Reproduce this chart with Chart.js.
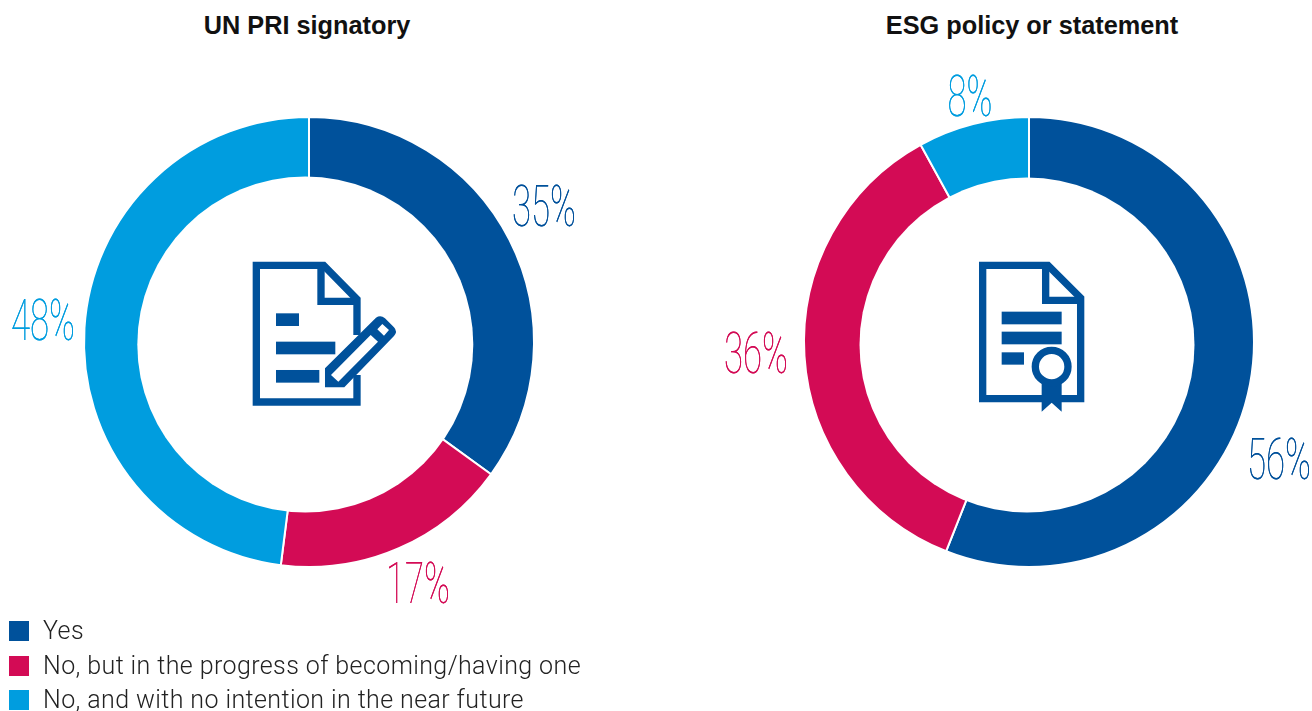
<!DOCTYPE html>
<html>
<head>
<meta charset="utf-8">
<title>UN PRI signatory and ESG policy</title>
<script src="https://cdn.jsdelivr.net/npm/chart.js@4"></script>
<style>
  body { margin: 0; background: #fff; width: 1312px; height: 711px; position: relative; overflow: hidden; }
  canvas { position: absolute; top: 0; }
  #chartLeft { left: 0; }
  #chartRight { left: 656px; }
  .title { position: absolute; top: 11px; font: bold 25.3px "Liberation Sans", sans-serif; color: #111; transform: translateX(-50%); white-space: nowrap; }
  #legend { position: absolute; left: 9px; top: 614px; font: 300 25px Roboto, sans-serif; letter-spacing: 0.4px; color: #222; }
  #legend div { height: 34.7px; line-height: 34.7px; white-space: nowrap; }
  #legend span { display: inline-block; width: 20px; height: 20px; margin-right: 14px; vertical-align: -2px; }
  #icons { position: absolute; left: 0; top: 0; pointer-events: none; }
</style>
</head>
<body>
<div class="title" id="titleLeft" style="left:307px"></div>
<div class="title" id="titleRight" style="left:1032px"></div>
<canvas id="chartLeft" width="656" height="711"></canvas>
<canvas id="chartRight" width="656" height="711"></canvas>
<div id="legend"></div>

<svg id="icons" width="1312" height="711" fill="#00519b" stroke="none">
  <!-- document with pencil -->
  <g transform="translate(230,240) scale(0.3333)">
    <path fill="none" stroke="#00519b" stroke-width="22" d="M381 285 V178 L281 76 H79 V486 H381 V405"/>
    <path fill="none" stroke="#00519b" stroke-width="22" d="M273 76 V184 H381"/>
    <rect x="138" y="220" width="69" height="38"/>
    <rect x="138" y="305" width="178" height="38"/>
    <rect x="138" y="390" width="130" height="38"/>
    <path fill-rule="evenodd" d="M285 442 V385 L438 233 Q452 224 465 235 L492 262 Q504 275 492 288 L343 442 Z M303 405 L422 285 L444 305 L325 425 Z M442 268 L457 252 L477 270 L462 287 Z"/>
  </g>
  <!-- document with seal -->
  <g transform="translate(960,240) scale(0.3333)">
    <path fill="none" stroke="#00519b" stroke-width="22" d="M68 76 H264 L362 174 V476 H68 Z"/>
    <path fill="none" stroke="#00519b" stroke-width="22" d="M257 76 V181 H362"/>
    <rect x="125" y="215" width="180" height="38"/>
    <rect x="125" y="275" width="180" height="38"/>
    <rect x="125" y="337" width="67" height="37"/>
    <path d="M245 425 H305 V515 L275 488 L245 515 Z"/>
    <circle cx="275" cy="380" r="49" fill="#fff" stroke="#00519b" stroke-width="22"/>
  </g>
</svg>

<script>
// Chart data
const categories = ['Yes', 'No, but in the progress of becoming/having one', 'No, and with no intention in the near future'];
const titles = ['UN PRI signatory', 'ESG policy or statement'];
const priValues = [35, 17, 48];
const esgValues = [56, 36, 8];
const colors = ['#00519b', '#d30b55', '#009ddf'];

// Where each % label sits, relative to the ring centre
const priLabelSpots = [[235, -130], [109, 247], [-266, -16]];
const esgLabelSpots = [[250, 123], [-273, 17], [-59, -240]];

// The hole in the source picture is not quite concentric with the ring,
// so the ring is cut a bit too small and the hole is painted over it
const offsetHole = {
  id: 'offsetHole',
  afterDatasetsDraw(chart, args, opts) {
    const arc = chart.getDatasetMeta(0).data[0];
    const ctx = chart.ctx;
    ctx.save();
    ctx.fillStyle = '#fff';
    ctx.beginPath();
    ctx.arc(arc.x + opts.dx, arc.y + opts.dy, opts.r, 0, Math.PI * 2);
    ctx.fill();
    ctx.restore();
  }
};

// Draws the big thin % labels next to the ring
const percentLabels = {
  id: 'percentLabels',
  afterDraw(chart, args, opts) {
    const ctx = chart.ctx;
    const arcs = chart.getDatasetMeta(0).data;
    ctx.save();
    ctx.textAlign = 'center';
    ctx.textBaseline = 'middle';
    ctx.font = '100 57px Roboto';
    arcs.forEach((arc, i) => {
      ctx.save();
      ctx.translate(arc.x + opts.spots[i][0], arc.y + opts.spots[i][1]);
      ctx.scale(0.61, 1);
      ctx.fillStyle = colors[i];
      ctx.fillText(chart.data.datasets[0].data[i] + '%', 0, 0);
      // thin face is a bit faint, go over it once more
      ctx.fillText(chart.data.datasets[0].data[i] + '%', 0, 0);
      ctx.restore();
    });
    ctx.restore();
  }
};

function makeDonut(id, values, spots, padding, hole) {
  return new Chart(document.getElementById(id), {
    type: 'doughnut',
    data: {
      labels: categories,
      datasets: [{
        data: values,
        backgroundColor: colors,
        borderColor: '#fff',
        borderWidth: 2
      }]
    },
    options: {
      responsive: false,
      animation: false,
      cutout: '70%',
      layout: { padding: padding },
      plugins: {
        legend: { display: false },
        tooltip: { enabled: false },
        offsetHole: hole,
        percentLabels: { spots: spots }
      }
    },
    plugins: [offsetHole, percentLabels]
  });
}

document.getElementById('titleLeft').textContent = titles[0];
document.getElementById('titleRight').textContent = titles[1];

// Legend
const legend = document.getElementById('legend');
categories.forEach((name, i) => {
  const row = document.createElement('div');
  const box = document.createElement('span');
  box.style.background = colors[i];
  row.appendChild(box);
  row.appendChild(document.createTextNode(name));
  legend.appendChild(row);
});

function startCharts() {
  makeDonut('chartLeft', priValues, priLabelSpots, { left: 83, right: 121, top: 116, bottom: 143 }, { dx: -3.7, dy: 2.5, r: 168 });
  makeDonut('chartRight', esgValues, esgLabelSpots, { left: 147, right: 57, top: 116, bottom: 143 }, { dx: -2, dy: 3, r: 167.5 });
}

// make sure the thin Roboto face is ready before the canvas uses it
document.fonts.load('100 57px Roboto').then(startCharts, startCharts);
</script>
</body>
</html>
